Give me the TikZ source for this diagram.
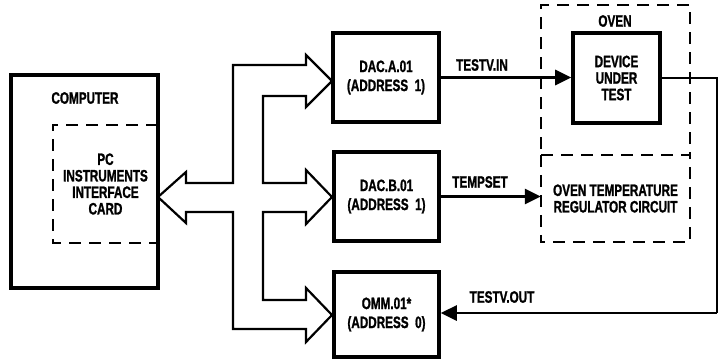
\documentclass[tikz,border=0pt]{standalone}
\usepackage{fontspec}
\newfontfamily\labfont{Liberation Sans}[FakeStretch=0.71,FakeBold=1.2]
\usetikzlibrary{arrows.meta}
\begin{document}
\begin{tikzpicture}[x=1pt,y=-1pt,
  txt/.style={font=\labfont\bfseries\fontsize{16.5}{16.5}\selectfont,
    align=center, inner sep=0pt},
  txtwide/.style={font=\labfont\bfseries\fontsize{16.5}{19}\selectfont,
    align=center, inner sep=0pt},
  unitbox/.style={draw, line width=3.6pt, inner sep=0pt},
  dashbox/.style={line width=2pt, dash pattern=on 12pt off 8pt},
  bus/.style={draw, line width=2.2pt, fill=white, line join=miter},
  sig/.style={line width=2.8pt, -{Triangle[length=16pt,width=15pt]}},
  wire/.style={line width=2.8pt}
]
\useasboundingbox (0,0) rectangle (719,359);

% computer and its interface card
\node[unitbox, minimum width=147pt, minimum height=213pt] (computer) at (84.5,181.5) {};
\node[txt] (comptitle) at (85,98) {COMPUTER};
\node[txt, minimum width=105pt, minimum height=118pt] (card) at (105.5,184)
  {PC\\INSTRUMENTS\\INTERFACE\\CARD};
\draw[dashbox] (card.north east) -- (card.north west) -- (card.south west) -- (card.south east);

% instrument modules
\node[unitbox, txtwide, minimum width=106pt, minimum height=89pt] (daca) at (386,77.5)
  {DAC.A.01\\(ADDRESS\ \ 1)};
\node[unitbox, txtwide, minimum width=105pt, minimum height=89pt] (dacb) at (386.5,196.5)
  {DAC.B.01\\(ADDRESS\ \ 1)};
\node[unitbox, txtwide, minimum width=105pt, minimum height=85pt] (omm) at (386.5,314.5)
  {OMM.01*\\(ADDRESS\ \ 0)};

% oven with device under test, and the temperature regulator
\node[dashbox, draw, minimum width=149pt, minimum height=150pt, inner sep=0pt] (oven) at (615.5,80) {};
\node[txt] (oventitle) at (615,21) {OVEN};
\node[unitbox, txt, minimum width=87pt, minimum height=90pt] (dut) at (616.5,78)
  {DEVICE\\UNDER\\TEST};
\node[txt, minimum width=149pt, minimum height=87pt] (reg) at (615.5,198.5)
  {OVEN TEMPERATURE\\REGULATOR CIRCUIT};
\draw[dashbox] (reg.north west) -- (reg.south west) -- (reg.south east) -- (reg.north east);

% data bus from the card to the three modules
\draw[bus] (158,197) -- (186,172) -- (186,183) -- (233,183) -- (233,65) -- (306,65)
  -- (306,55) -- (332,81) -- (306,107) -- (306,96) -- (263,96) -- (263,183)
  -- (306,183) -- (306,170) -- (332,197) -- (306,224) -- (306,212) -- (263,212)
  -- (263,300) -- (306,300) -- (306,288) -- (332,315) -- (306,342) -- (306,329)
  -- (233,329) -- (233,212) -- (186,212) -- (186,223) -- cycle;

% signal lines
\draw[sig] (daca.east) -- (daca.east -| dut.west);
\node[txt] (lin) at (482,65) {TESTV.IN};
\draw[sig] (dacb.east) -- (dacb.east -| reg.west);
\node[txt] (ltemp) at (480,182) {TEMPSET};
\coordinate (bend) at (717,81);
\draw[wire] (dut.east) -- (dut.east -| bend) -- (bend |- 0,313);
\draw[sig] (bend |- 0,313) -- (omm.east |- 0,313);
\node[txt] (lout) at (502,297) {TESTV.OUT};
\end{tikzpicture}
\end{document}
